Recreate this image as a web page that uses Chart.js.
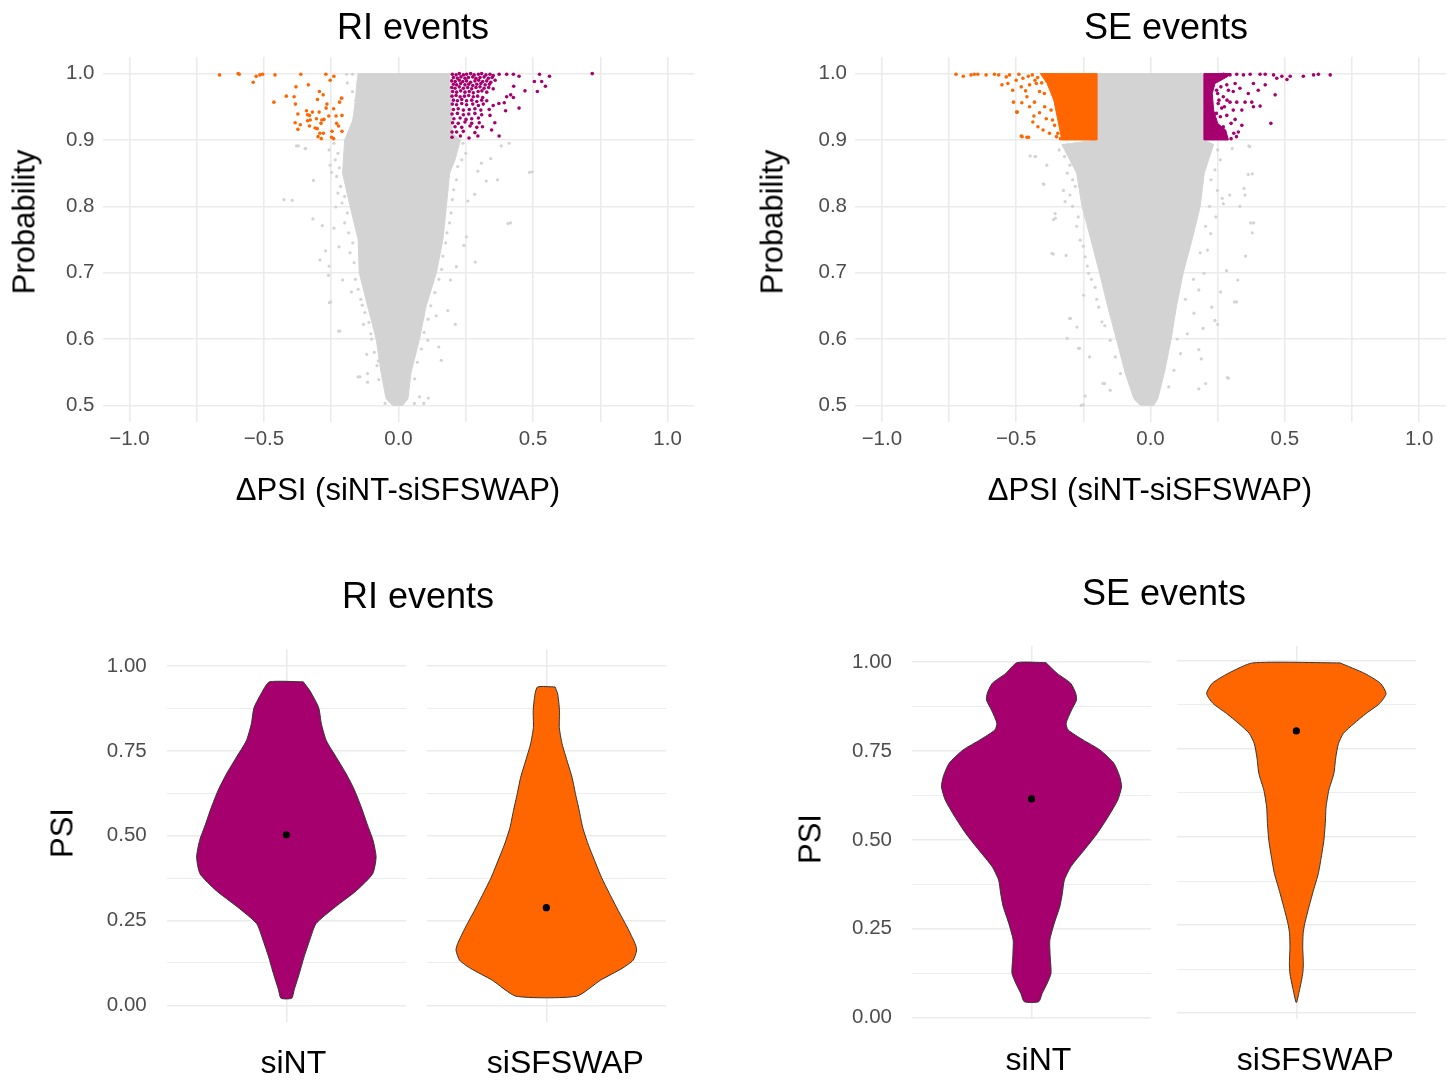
<!DOCTYPE html>
<html>
<head>
<meta charset="utf-8">
<title>RI / SE events</title>
<script src="https://cdn.jsdelivr.net/npm/chart.js@4.4.1/dist/chart.umd.min.js"></script>
<style>
  html, body { margin: 0; padding: 0; background: #ffffff; }
  #page { position: relative; width: 1456px; height: 1084px; overflow: hidden;
          font-family: "Liberation Sans", Arial, Helvetica, sans-serif; }
  #page canvas { position: absolute; left: 0; top: 0; }
  .txt { position: absolute; white-space: nowrap; line-height: 1; color: #000;
         transform: translate(-50%, -50%); }
  .txt.up { transform: translate(-50%, -50%) rotate(-90deg); }
</style>
</head>
<body>
<div id="page">
  <canvas id="riScatter" width="1456" height="1084"></canvas>
  <canvas id="seScatter" width="1456" height="1084"></canvas>
  <canvas id="riNt" width="1456" height="1084"></canvas>
  <canvas id="riSf" width="1456" height="1084"></canvas>
  <canvas id="seNt" width="1456" height="1084"></canvas>
  <canvas id="seSf" width="1456" height="1084"></canvas>

  <div class="txt" style="left:413px; top:27px; font-size:36px;">RI events</div>
  <div class="txt" style="left:1166px; top:27px; font-size:36px;">SE events</div>
  <div class="txt up" style="left:24px; top:222px; font-size:31px;">Probability</div>
  <div class="txt up" style="left:772px; top:222px; font-size:31px;">Probability</div>
  <div class="txt" style="left:398px; top:489px; font-size:31px;">ΔPSI (siNT-siSFSWAP)</div>
  <div class="txt" style="left:1150px; top:489px; font-size:31px;">ΔPSI (siNT-siSFSWAP)</div>
  <div class="txt" style="left:418px; top:596px; font-size:36px;">RI events</div>
  <div class="txt" style="left:1164px; top:593px; font-size:36px;">SE events</div>
  <div class="txt up" style="left:62px; top:833px; font-size:31px;">PSI</div>
  <div class="txt up" style="left:810px; top:839px; font-size:31px;">PSI</div>
</div>

<script>
// ---- ticks and categories ----
const dpsiTicks = [-1, -0.75, -0.5, -0.25, 0, 0.25, 0.5, 0.75, 1];
const dpsiTickLabels = ['\u22121.0', '', '\u22120.5', '', '0.0', '', '0.5', '', '1.0'];
const probTicks = [0.5, 0.6, 0.7, 0.8, 0.9, 1.0];
const probTickLabels = ['0.5', '0.6', '0.7', '0.8', '0.9', '1.0'];
const psiTicks = [0, 0.125, 0.25, 0.375, 0.5, 0.625, 0.75, 0.875, 1];
const psiTickLabels = ['0.00', '', '0.25', '', '0.50', '', '0.75', '', '1.00'];
const conditions = ['siNT', 'siSFSWAP'];

// ---- RI volcano: [dPSI, probability] ----
// dense grey core, traced around its edge
const riGreyHull = [[-0.15,1.0],[0.19,1.0],[0.195,0.95],[0.2,0.91],[0.23,0.9],[0.21,0.87],[0.19,0.85],
  [0.178,0.8],[0.165,0.75],[0.141,0.7],[0.103,0.65],[0.078,0.6],[0.047,0.55],[0.035,0.51],[0.015,0.5],
  [-0.022,0.5],[-0.046,0.51],[-0.065,0.55],[-0.083,0.6],[-0.115,0.65],[-0.146,0.7],[-0.15,0.75],
  [-0.18,0.8],[-0.208,0.85],[-0.2,0.9],[-0.17,0.93],[-0.16,0.96],[-0.155,0.985]];
const riGreyPts = [[-0.426,0.81],[-0.395,0.809],[-0.316,0.839],[-0.318,0.781],[-0.283,0.771],[-0.271,0.733],
  [-0.292,0.719],[-0.258,0.71],[-0.26,0.696],[-0.257,0.655],[-0.223,0.612],[-0.118,0.577],[-0.15,0.543],
  [-0.115,0.548],[-0.115,0.535],[0.407,0.774],[0.487,0.851],[0.285,0.716],[0.211,0.622],[0.159,0.568],
  [0.111,0.511],[0.078,0.513],[0.094,0.503],[0.059,0.503],[0.343,0.872],[0.368,0.84],[0.308,0.865],
  [0.295,0.853],[0.326,0.838],[0.382,0.891],[0.283,0.818],[0.258,0.808],[0.252,0.754],[0.243,0.741],
  [0.215,0.709],[0.193,0.689],[0.183,0.643],[0.14,0.635],[0.15,0.588],[0.109,0.598],[-0.254,0.862],
  [-0.249,0.851],[-0.233,0.799],[-0.24,0.767],[-0.221,0.739],[-0.208,0.689],[-0.175,0.671],[-0.135,0.651],
  [-0.13,0.622],[-0.103,0.608],[-0.075,0.567],[-0.073,0.539],[-0.05,0.503],[-0.372,0.891],[-0.347,0.887],
  [0.411,0.895],[0.497,0.852],[0.416,0.775],[-0.252,0.656],[-0.218,0.612],[-0.143,0.543],[-0.193,0.999],
  [-0.171,0.999],[-0.14,0.988],[-0.19,0.986],[-0.171,0.973],[-0.159,0.96],[-0.208,0.963],[-0.143,0.95],
  [-0.162,0.93],[-0.152,0.906],[-0.258,0.885],[-0.345,0.887],[-0.379,0.891],[-0.165,0.89],[-0.128,0.92],
  [-0.24,0.895],[-0.225,0.88],[-0.235,0.87],[-0.22,0.858],[-0.23,0.845],[-0.215,0.83],[-0.225,0.82],
  [-0.2,0.815],[-0.21,0.805],[-0.19,0.79],[-0.2,0.775],[-0.185,0.76],[-0.17,0.745],[-0.18,0.73],
  [-0.165,0.715],[-0.16,0.69],[-0.15,0.675],[-0.14,0.66],[-0.125,0.64],[-0.11,0.625],[-0.1,0.6],
  [-0.09,0.58],[-0.08,0.56],[0.24,0.895],[0.25,0.88],[0.235,0.87],[0.22,0.86],[0.215,0.84],[0.205,0.825],
  [0.2,0.81],[0.195,0.79],[0.19,0.775],[0.18,0.76],[0.175,0.745],[0.165,0.725],[0.16,0.705],[0.15,0.69],
  [0.135,0.67],[0.12,0.65],[0.11,0.63],[0.095,0.61],[0.085,0.585],[0.07,0.565],[0.06,0.54]];
const riDownPts = [[-0.665,0.998],[-0.596,1.0],[-0.592,0.999],[-0.54,0.987],[-0.529,0.996],[-0.515,0.998],
  [-0.505,0.999],[-0.459,0.998],[-0.363,0.999],[-0.335,0.983],[-0.27,0.999],[-0.254,0.99],[-0.24,0.996],
  [-0.381,0.98],[-0.417,0.966],[-0.388,0.965],[-0.463,0.957],[-0.294,0.973],[-0.28,0.968],[-0.301,0.961],
  [-0.383,0.954],[-0.212,0.963],[-0.219,0.957],[-0.266,0.954],[-0.269,0.948],[-0.241,0.947],[-0.342,0.944],
  [-0.32,0.942],[-0.295,0.942],[-0.374,0.939],[-0.338,0.938],[-0.259,0.936],[-0.232,0.936],[-0.21,0.937],
  [-0.305,0.932],[-0.338,0.929],[-0.328,0.93],[-0.285,0.93],[-0.277,0.931],[-0.384,0.926],[-0.365,0.923],
  [-0.288,0.925],[-0.23,0.925],[-0.223,0.921],[-0.31,0.918],[-0.302,0.917],[-0.374,0.916],[-0.292,0.91],
  [-0.279,0.91],[-0.247,0.913],[-0.21,0.913],[-0.299,0.905],[-0.287,0.902],[-0.249,0.904],[-0.241,0.902],
  [-0.331,0.921],[-0.331,0.937]];
const riUpPts = [[0.2,0.999],[0.214,0.998],[0.226,1.0],[0.241,0.998],[0.253,0.999],[0.268,1.0],[0.281,0.998],
  [0.297,0.999],[0.309,1.0],[0.325,0.998],[0.34,0.999],[0.352,0.997],[0.374,0.999],
  [0.204,0.994],[0.219,0.993],[0.232,0.995],[0.247,0.993],[0.26,0.994],[0.276,0.995],[0.288,0.993],
  [0.303,0.994],[0.318,0.995],[0.334,0.993],[0.348,0.994],
  [0.198,0.989],[0.211,0.988],[0.226,0.99],[0.239,0.988],[0.253,0.989],[0.268,0.987],[0.284,0.989],
  [0.298,0.99],[0.313,0.988],[0.328,0.989],[0.343,0.987],[0.359,0.99],
  [0.204,0.984],[0.216,0.983],[0.231,0.985],[0.247,0.983],[0.261,0.984],[0.276,0.982],[0.291,0.984],
  [0.306,0.985],[0.322,0.983],[0.338,0.984],
  [0.198,0.979],[0.21,0.978],[0.226,0.98],[0.241,0.978],[0.257,0.979],[0.272,0.977],[0.288,0.979],
  [0.303,0.98],[0.318,0.978],[0.335,0.979],[0.352,0.977],
  [0.201,0.973],[0.216,0.972],[0.231,0.974],[0.247,0.972],[0.263,0.973],[0.278,0.971],[0.296,0.973],
  [0.31,0.974],[0.328,0.972],
  [0.199,0.966],[0.214,0.967],[0.229,0.965],[0.245,0.966],[0.261,0.967],[0.278,0.965],[0.294,0.966],[0.313,0.964],
  [0.204,0.96],[0.219,0.959],[0.235,0.961],[0.253,0.959],[0.272,0.96],[0.291,0.958],[0.309,0.96],[0.328,0.959],
  [0.2,0.954],[0.216,0.953],[0.235,0.955],[0.253,0.953],[0.276,0.954],[0.297,0.952],[0.315,0.954],
  [0.204,0.946],[0.222,0.947],[0.241,0.945],[0.263,0.946],[0.284,0.947],[0.306,0.945],
  [0.199,0.939],[0.219,0.94],[0.241,0.938],[0.261,0.939],[0.284,0.94],[0.309,0.938],
  [0.206,0.932],[0.229,0.933],[0.251,0.931],[0.272,0.932],[0.297,0.933],
  [0.201,0.926],[0.222,0.925],[0.247,0.927],[0.272,0.925],[0.3,0.926],
  [0.21,0.92],[0.235,0.919],[0.266,0.921],[0.291,0.919],[0.199,0.912],[0.241,0.913],[0.284,0.911],
  [0.402,0.999],[0.427,0.999],[0.448,0.996],[0.524,0.999],[0.561,0.996],[0.505,0.988],[0.532,0.988],
  [0.546,0.981],[0.516,0.973],[0.47,0.974],[0.428,0.981],[0.417,0.968],[0.402,0.965],[0.427,0.964],
  [0.393,0.956],[0.373,0.955],[0.448,0.948],[0.398,0.944],[0.346,0.915],[0.374,0.906],[0.358,0.926],
  [0.312,0.92],[0.295,0.906],[0.262,0.903],[0.23,0.906],[0.199,0.904],[0.216,0.912],[0.34,0.937],
  [0.352,0.952],[0.337,0.946],[0.72,1.0]];

// ---- SE volcano: [dPSI, probability] ----
const seGreyHull = [[-0.2,1.0],[0.2,1.0],[0.2,0.9],[0.235,0.893],[0.2,0.85],[0.185,0.8],[0.155,0.75],
  [0.122,0.7],[0.097,0.65],[0.077,0.6],[0.052,0.55],[0.027,0.51],[0.012,0.5],[-0.037,0.5],[-0.062,0.51],
  [-0.095,0.55],[-0.127,0.6],[-0.16,0.65],[-0.19,0.7],[-0.222,0.75],[-0.255,0.8],[-0.275,0.85],
  [-0.33,0.893],[-0.2,0.9]];
const seGreyPts = [[-0.43,0.875],[-0.399,0.834],[-0.386,0.862],[-0.355,0.789],[-0.361,0.78],[-0.367,0.729],
  [-0.314,0.726],[-0.301,0.631],[-0.274,0.618],[-0.31,0.601],[-0.268,0.586],[-0.227,0.573],[-0.249,0.666],
  [-0.243,0.514],[-0.258,0.5],[-0.177,0.533],[-0.15,0.523],[0.286,0.542],[0.205,0.533],[0.18,0.525],
  [0.18,0.584],[0.189,0.57],[0.354,0.725],[0.325,0.689],[0.313,0.656],[0.283,0.703],[0.261,0.671],
  [0.373,0.775],[0.379,0.76],[0.348,0.827],[0.333,0.8],[0.364,0.848],[0.304,0.887],[0.366,0.891],
  [0.295,0.817],[0.271,0.804],[0.24,0.628],[0.228,0.648],[0.196,0.616],[0.37,0.89],[0.379,0.849],
  [0.384,0.775],[0.32,0.656],[0.29,0.541],[0.25,0.622],[-0.362,0.728],[-0.298,0.631],[-0.264,0.586],
  [-0.25,0.501],[-0.448,0.876],[-0.428,0.875],[-0.397,0.833],[-0.354,0.782],[-0.171,0.533],[0.352,0.817],
  [-0.324,0.824],[-0.318,0.807],[-0.3,0.817],[-0.269,0.784],[-0.262,0.749],[-0.243,0.724],[-0.231,0.699],
  [-0.206,0.678],[-0.193,0.648],[-0.181,0.626],[-0.15,0.598],[-0.131,0.573],[-0.112,0.548],
  [0.249,0.824],[0.267,0.812],[0.243,0.784],[0.224,0.759],[0.212,0.734],[0.199,0.699],[0.18,0.674],
  [0.162,0.639],[0.137,0.608],[0.112,0.578],[0.087,0.553],[0.068,0.528],
  [-0.34,0.885],[-0.32,0.875],[-0.3,0.862],[-0.31,0.85],[-0.29,0.84],[-0.28,0.83],[-0.29,0.8],
  [-0.275,0.77],[-0.25,0.74],[-0.235,0.71],[-0.22,0.69],[-0.2,0.66],[-0.17,0.62],[0.25,0.885],
  [0.26,0.87],[0.24,0.855],[0.225,0.84],[0.22,0.8],[0.205,0.77],[0.185,0.73],[0.16,0.69],[0.13,0.66],[0.1,0.6]];
const seDownBlock = [[-0.2,1.0],[-0.2,0.9],[-0.33,0.9],[-0.345,0.93],[-0.36,0.96],[-0.385,0.985],[-0.41,1.0]];
const seDownPts = [[-0.724,0.999],[-0.697,0.996],[-0.668,0.998],[-0.656,0.999],[-0.643,0.999],[-0.612,0.998],
  [-0.581,0.999],[-0.565,0.998],[-0.553,0.983],[-0.537,0.995],[-0.525,0.998],[-0.531,0.985],[-0.5,0.99],
  [-0.513,0.975],[-0.481,0.98],[-0.465,0.974],[-0.51,0.957],[-0.498,0.942],[-0.479,0.956],[-0.46,0.965],
  [-0.45,0.95],[-0.434,0.936],[-0.438,0.927],[-0.481,0.906],[-0.46,0.904],[-0.419,0.92],[-0.4,0.915],
  [-0.413,0.941],[-0.388,0.932],[-0.394,0.95],[-0.376,0.91],[-0.357,0.922],[-0.432,0.957],[-0.413,0.973],
  [-0.425,0.985],[-0.45,0.983],[-0.475,0.993],[-0.478,0.905],[-0.454,0.904],[-0.496,0.942],[-0.44,0.998],
  [-0.455,0.996],[-0.49,0.999],[-0.42,0.994],[-0.43,0.99],[-0.405,0.986],[-0.395,0.97],[-0.37,0.945],
  [-0.365,0.93],[-0.345,0.91],[-0.35,0.905],[-0.335,0.902]];
const seUpBlock = [[0.2,1.0],[0.2,0.9],[0.29,0.9],[0.28,0.915],[0.25,0.925],[0.235,0.945],[0.23,0.97],
  [0.24,0.985],[0.285,0.995],[0.3,1.0]];
const seUpPts = [[0.271,0.999],[0.296,0.998],[0.321,0.999],[0.346,0.998],[0.371,0.999],[0.408,0.999],
  [0.427,0.999],[0.458,0.998],[0.489,0.996],[0.52,0.996],[0.569,0.996],[0.607,0.998],[0.625,0.999],
  [0.669,0.998],[0.47,0.993],[0.508,0.991],[0.427,0.983],[0.464,0.968],[0.401,0.975],[0.383,0.985],
  [0.364,0.97],[0.333,0.978],[0.315,0.985],[0.308,0.973],[0.284,0.983],[0.296,0.957],[0.321,0.957],
  [0.352,0.957],[0.377,0.957],[0.34,0.945],[0.383,0.95],[0.408,0.951],[0.448,0.925],[0.315,0.931],
  [0.34,0.922],[0.327,0.912],[0.284,0.937],[0.265,0.948],[0.271,0.965],[0.246,0.975],[0.308,0.945],
  [0.271,0.92],[0.252,0.955],[0.245,0.94],[0.26,0.935],[0.255,0.96],[0.25,0.97],[0.262,0.98],
  [0.275,0.95],[0.3,0.925],[0.31,0.91],[0.3,0.902],[0.32,0.905],[0.285,0.96],[0.29,0.975]];

// ---- violins: PSI level (top to bottom) and half width in category units ----
const riNtPsi  = [0.954,0.927,0.878,0.829,0.78,0.731,0.682,0.633,0.584,0.535,0.486,0.437,0.388,0.339,0.29,0.241,0.192,0.143,0.094,0.045,0.021];
const riNtHalf = [0.085,0.119,0.162,0.176,0.201,0.251,0.301,0.343,0.376,0.405,0.435,0.45,0.433,0.353,0.245,0.149,0.117,0.089,0.065,0.039,0.027];
const riSfPsi  = [0.939,0.918,0.869,0.819,0.771,0.721,0.672,0.624,0.574,0.525,0.476,0.427,0.378,0.329,0.28,0.231,0.182,0.163,0.133,0.109,0.074,0.027];
const riSfHalf = [0.044,0.057,0.066,0.065,0.079,0.104,0.129,0.146,0.165,0.182,0.209,0.242,0.276,0.317,0.36,0.405,0.445,0.453,0.435,0.38,0.271,0.152];
const seNtPsi  = [0.998,0.968,0.94,0.912,0.893,0.865,0.828,0.809,0.781,0.753,0.715,0.678,0.649,0.612,0.565,0.518,0.471,0.425,0.387,0.35,0.312,0.265,0.218,0.171,0.125,0.097,0.069,0.045];
const seNtHalf = [0.073,0.129,0.197,0.222,0.226,0.201,0.174,0.184,0.259,0.343,0.414,0.443,0.452,0.433,0.385,0.33,0.264,0.198,0.165,0.155,0.142,0.114,0.092,0.094,0.098,0.079,0.054,0.036];
const seSfPsi  = [0.994,0.964,0.936,0.907,0.879,0.851,0.822,0.794,0.765,0.727,0.68,0.633,0.585,0.538,0.49,0.443,0.396,0.349,0.301,0.254,0.226,0.188,0.14,0.112,0.074,0.031];
const seSfHalf = [0.219,0.343,0.422,0.45,0.418,0.351,0.289,0.236,0.211,0.198,0.188,0.163,0.149,0.145,0.138,0.125,0.11,0.086,0.063,0.042,0.034,0.032,0.035,0.032,0.019,0.002];
const riMeans = [0.503, 0.288];
const seMeans = [0.615, 0.801];

// ---- styling ----
const GRID = '#EBEBEB';
const TICK = '#4D4D4D';
const GREY = '#D3D3D3';
const ORANGE = '#FF6600';
const PURPLE = '#A6006E';
const PAGE_W = 1456, PAGE_H = 1084;
const Y_AXIS_W = 95;   // room kept for y tick labels
const X_AXIS_H = 70;   // room kept for x tick labels

Chart.defaults.font.family = '"Liberation Sans", Arial, Helvetica, sans-serif';

// area = [left, right, top, bottom] of the plotting panel on the page
function pad(area) {
  return {left: area[0] - Y_AXIS_W, right: PAGE_W - area[1], top: area[2], bottom: PAGE_H - area[3] - X_AXIS_H};
}

const toXY = pts => pts.map(p => ({x: p[0], y: p[1]}));

function pointSet(pts, color, r, order) {
  return {data: toXY(pts), backgroundColor: color, pointRadius: r, borderWidth: 0, order: order};
}

function areaSet(pts, color, order) {
  const d = toXY(pts);
  d.push(d[0]);
  return {data: d, showLine: true, fill: 'shape', backgroundColor: color, borderColor: color,
          borderWidth: 1, pointRadius: 0, order: order};
}

function baseOptions(area) {
  return {
    responsive: false, devicePixelRatio: 1, animation: false, events: [],
    layout: {padding: pad(area)},
    plugins: {legend: {display: false}, tooltip: {enabled: false}}
  };
}

function scatterPanel(id, area, datasets) {
  const opts = baseOptions(area);
  opts.scales = {
    x: {
      min: -1.1, max: 1.1,
      afterFit: s => { s.height = X_AXIS_H; },
      afterBuildTicks: s => { s.ticks = dpsiTicks.map(v => ({value: v})); },
      border: {display: false},
      grid: {color: GRID, lineWidth: 1.6, drawTicks: false},
      ticks: {autoSkip: false, maxRotation: 0, padding: 5, color: TICK, font: {size: 20.5},
              callback: (v, i) => dpsiTickLabels[i]}
    },
    y: {
      min: 0.475, max: 1.025,
      afterFit: s => { s.width = Y_AXIS_W; },
      afterBuildTicks: s => { s.ticks = probTicks.map(v => ({value: v})); },
      border: {display: false},
      grid: {color: GRID, lineWidth: 1.6, drawTicks: false},
      ticks: {padding: 8, color: TICK, font: {size: 20.5}, callback: (v, i) => probTickLabels[i]}
    }
  };
  new Chart(document.getElementById(id), {type: 'scatter', data: {datasets: datasets}, options: opts});
}

function violinOutline(psi, half) {
  const right = psi.map((p, i) => ({x: 1 + half[i], y: p}));
  const left = psi.map((p, i) => ({x: 1 - half[i], y: p})).reverse();
  return right.concat(left, [right[0]]);
}

function violinPanel(id, area, yRange, name, labelShift, psi, half, mean, color, showY) {
  const opts = baseOptions(area);
  opts.scales = {
    x: {
      min: 0.4, max: 1.6,
      afterFit: s => { s.height = X_AXIS_H; },
      afterBuildTicks: s => { s.ticks = [{value: 1}]; },
      border: {display: false},
      grid: {color: GRID, lineWidth: 1.6, drawTicks: false},
      ticks: {autoSkip: false, maxRotation: 0, padding: 23, labelOffset: labelShift, color: '#000',
              font: {size: 32}, callback: () => name}
    },
    y: {
      min: yRange[0], max: yRange[1],
      afterFit: s => { s.width = Y_AXIS_W; },
      afterBuildTicks: s => { s.ticks = psiTicks.map(v => ({value: v})); },
      border: {display: false},
      grid: {color: GRID, lineWidth: c => (c.index % 2 === 0 ? 1.6 : 0.9), drawTicks: false},
      ticks: {display: showY, padding: 20, color: TICK, font: {size: 20.5},
              callback: (v, i) => psiTickLabels[i]}
    }
  };
  new Chart(document.getElementById(id), {
    type: 'scatter',
    data: {datasets: [
      {data: [{x: 1, y: mean}], backgroundColor: '#000', pointRadius: 3.6, borderWidth: 0, order: 1},
      {data: violinOutline(psi, half), showLine: true, fill: 'shape', tension: 0.2,
       backgroundColor: color, borderColor: '#333333', borderWidth: 1, pointRadius: 0, order: 2}
    ]},
    options: opts
  });
}

scatterPanel('riScatter', [102.5, 694.5, 57, 422], [
  pointSet(riDownPts, ORANGE, 1.8, 1),
  pointSet(riUpPts, PURPLE, 1.8, 1),
  pointSet(riGreyPts, GREY, 1.6, 8),
  areaSet(riGreyHull, GREY, 9)
]);

scatterPanel('seScatter', [855, 1446, 57, 422], [
  pointSet(seDownPts, ORANGE, 1.8, 1),
  pointSet(seUpPts, PURPLE, 1.8, 1),
  areaSet(seDownBlock, ORANGE, 2),
  areaSet(seUpBlock, PURPLE, 2),
  pointSet(seGreyPts, GREY, 1.6, 8),
  areaSet(seGreyHull, GREY, 9)
]);

violinPanel('riNt', [166.7, 406, 649.3, 1022.3], [-0.05, 1.05], conditions[0], 7, riNtPsi, riNtHalf, riMeans[0], PURPLE, true);
violinPanel('riSf', [426.7, 666, 649.3, 1022.3], [-0.05, 1.05], conditions[1], 19, riSfPsi, riSfHalf, riMeans[1], ORANGE, false);
violinPanel('seNt', [912, 1151, 646, 1018.8], [-0.003, 1.045], conditions[0], 7, seNtPsi, seNtHalf, seMeans[0], PURPLE, true);
violinPanel('seSf', [1176.7, 1416, 646, 1018.8], [-0.016, 1.042], conditions[1], 19, seSfPsi, seSfHalf, seMeans[1], ORANGE, false);
</script>
</body>
</html>
